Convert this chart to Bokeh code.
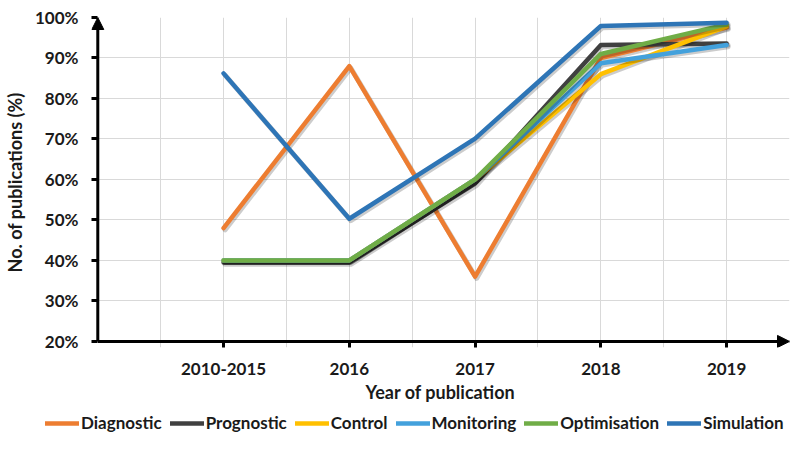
from bokeh.plotting import figure
from bokeh.layouts import column
from bokeh.models import (Range1d, FixedTicker, PrintfTickFormatter, Legend, LegendItem,
                          Arrow, NormalHead, ColumnDataSource)
from bokeh.transform import dodge
from bokeh.embed import file_html
from bokeh.resources import INLINE

years = ["2010-2015", "2016", "2017", "2018", "2019"]
diagnostic = [48, 88, 36, 90, 97.5]
prognostic = [39.5, 39.5, 59, 93.2, 93.6]
control = [40, 40, 60, 86, 97.8]
monitoring = [40, 40, 60, 88.7, 93.2]
optimisation = [40, 40, 60, 91, 98.3]
simulation = [86.2, 50.3, 70.1, 97.9, 98.7]

series_names = ["Diagnostic", "Prognostic", "Control", "Monitoring", "Optimisation", "Simulation"]
series_values = [diagnostic, prognostic, control, monitoring, optimisation, simulation]
colors = ["#ED7D31", "#404040", "#FFC000", "#43A1DC", "#70AD47", "#2E75B6"]

y_ticks = [20, 30, 40, 50, 60, 70, 80, 90, 100]

FONT = "Lato"
TXT = "#1a1a1a"

xs = list(range(1, len(years) + 1))
x_end = len(years) + 0.5
y0, y1 = y_ticks[0], y_ticks[-1]

p = figure(width=795, height=413, output_backend="svg", toolbar_location=None,
           x_range=Range1d(-0.05, x_end), y_range=Range1d(y0 - 1.5, y1),
           min_border_left=90, min_border_top=17, min_border_right=6, min_border_bottom=66)
p.outline_line_color = None
p.background_fill_color = "white"
p.border_fill_color = "white"

# grid
p.xgrid.ticker = FixedTicker(ticks=[i * 0.5 for i in range(1, 2 * len(years) + 2)])
p.ygrid.ticker = FixedTicker(ticks=y_ticks[1:])
for g in (p.xgrid, p.ygrid):
    g.grid_line_color = "#d9d9d9"
    g.grid_line_width = 1

# axes (lines drawn as arrows below; ticks reach in to them)
p.xaxis.ticker = FixedTicker(ticks=xs)
p.xaxis.major_label_overrides = {x: y for x, y in zip(xs, years)}
p.yaxis.ticker = FixedTicker(ticks=y_ticks)
p.yaxis.formatter = PrintfTickFormatter(format="%d%%")
for ax in (p.xaxis, p.yaxis):
    ax.axis_line_color = None
    ax.major_tick_line_width = 3
    ax.major_tick_line_color = "black"
    ax.major_tick_in = 6
    ax.major_tick_out = 0
    ax.minor_tick_line_color = None
    ax.major_label_text_font = FONT
    ax.major_label_text_font_style = "bold"
    ax.major_label_text_font_size = "17px"
    ax.major_label_text_color = TXT
    ax.axis_label_text_font = FONT
    ax.axis_label_text_font_style = "bold"
    ax.axis_label_text_font_size = "18px"
    ax.axis_label_text_color = TXT
p.xaxis.major_label_standoff = 15
p.yaxis.major_label_standoff = 13
p.xaxis.axis_label = "Year of publication"
p.yaxis.axis_label = "No. of publications (%)"
p.xaxis.axis_label_standoff = 3
p.yaxis.axis_label_standoff = 6

# axis lines with arrow heads
p.add_layout(Arrow(end=NormalHead(size=12, fill_color="black", line_color="black"),
                   x_start=0, y_start=y0, x_end=x_end, y_end=y0,
                   line_width=3, line_color="black"))
p.add_layout(Arrow(end=NormalHead(size=12, fill_color="black", line_color="black"),
                   x_start=0, y_start=y0, x_end=0, y_end=y1,
                   line_width=3, line_color="black"))

# legend holder figure (same series, drawn out of its view)
pl = figure(width=795, height=20, output_backend="svg", toolbar_location=None,
            x_range=Range1d(0, 1), y_range=Range1d(-2, -1),
            x_axis_type=None, y_axis_type=None,
            min_border_left=0, min_border_right=0, min_border_top=0, min_border_bottom=0)
pl.frame_align = False
pl.outline_line_color = None
pl.grid.visible = False

items = []
for name, vals, col in zip(series_names, series_values, colors):
    src = ColumnDataSource(dict(x=xs, y=vals))
    p.line(x=dodge("x", 0.012), y=dodge("y", -0.45), source=src, line_width=5,
           line_color="black", line_alpha=0.2, line_join="round", line_cap="round")
    p.line(x="x", y="y", source=src, line_width=4.5, line_color=col,
           line_join="round", line_cap="round")
    r = pl.line(x="x", y="y", source=src, line_width=4.5, line_color=col, line_cap="round")
    items.append(LegendItem(label=name, renderers=[r]))

legend = Legend(items=items, orientation="horizontal", location=(45, 0),
                glyph_width=34, glyph_height=18, label_standoff=2, spacing=8,
                padding=0, margin=0, border_line_color=None, background_fill_alpha=0,
                label_text_font=FONT, label_text_font_style="bold",
                label_text_font_size="17px", label_text_color=TXT)
pl.add_layout(legend, "center")

layout = column(p, pl, spacing=0)
open("out.html", "w").write(file_html(layout, INLINE))
